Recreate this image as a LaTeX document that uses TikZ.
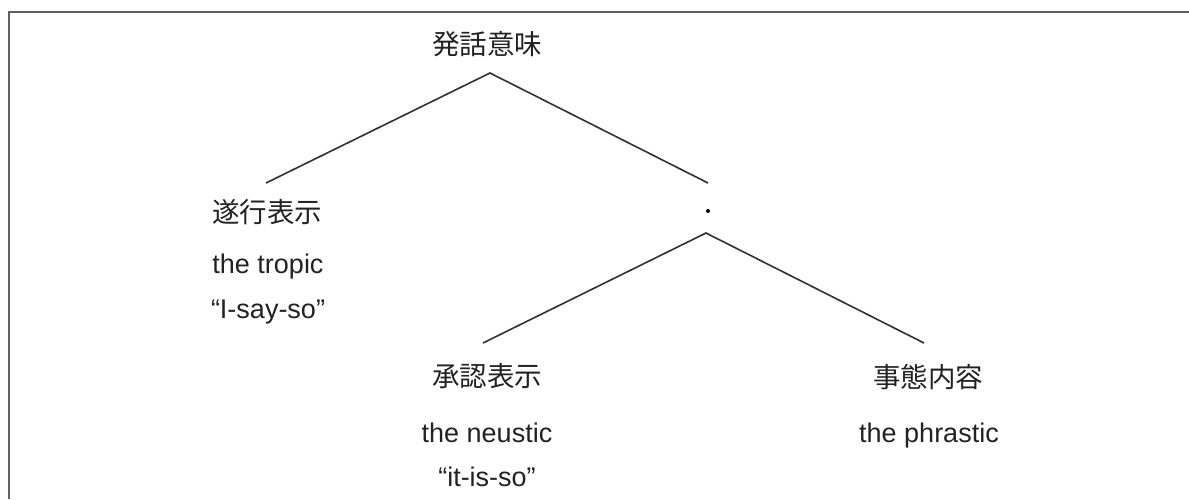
\documentclass[tikz,border=0pt]{standalone}
\usepackage{fontspec}
\setmainfont{Liberation Sans}
\newfontfamily\cjk{Noto Sans CJK JP}
\definecolor{txt}{HTML}{222222}
\definecolor{ln}{HTML}{303030}
\definecolor{fr}{HTML}{606060}
\begin{document}
\begin{tikzpicture}[x=1pt,y=-1pt,
  lbl/.style={inner sep=0pt,anchor=base,text=txt,font=\fontsize{27}{32}\selectfont},
  jlbl/.style={inner sep=0pt,text=txt,font=\cjk\fontsize{27.5}{32}\selectfont},
  edge/.style={draw=ln,line width=1.6pt},
  frame/.style={draw=fr,line width=2pt}]
\useasboundingbox (0,0) rectangle (1189,499);
\coordinate (fbl) at (9,499);
\coordinate (ftl) at (9,12);
\coordinate (ftr) at (1189,12);
\draw[frame] (fbl) -- (ftl) -- (ftr);

\node[jlbl] (root) at (487,44) {発話意味};
\coordinate (a1) at (490,73);
\coordinate (l1) at (266,183);
\coordinate (r1) at (708,183);
\draw[edge] (l1) -- (a1) -- (r1);

\node[jlbl] (tj) at (267,212) {遂行表示};
\node[lbl] (te) at (268,273) {the tropic};
\node[lbl] (tq) at (268,318) {“I-say-so”};

\node[circle,fill=black,inner sep=0pt,minimum size=4pt] (dot) at (708,211) {};
\coordinate (a2) at (706,233);
\coordinate (l2) at (483,343);
\coordinate (r2) at (924,343);
\draw[edge] (l2) -- (a2) -- (r2);

\node[jlbl] (nj) at (487,376) {承認表示};
\node[lbl] (ne) at (487,442) {the neustic};
\node[lbl] (nq) at (487,486) {“it-is-so”};

\node[jlbl] (pj) at (928,377) {事態内容};
\node[lbl] (pe) at (929,442) {the phrastic};
\end{tikzpicture}
\end{document}
